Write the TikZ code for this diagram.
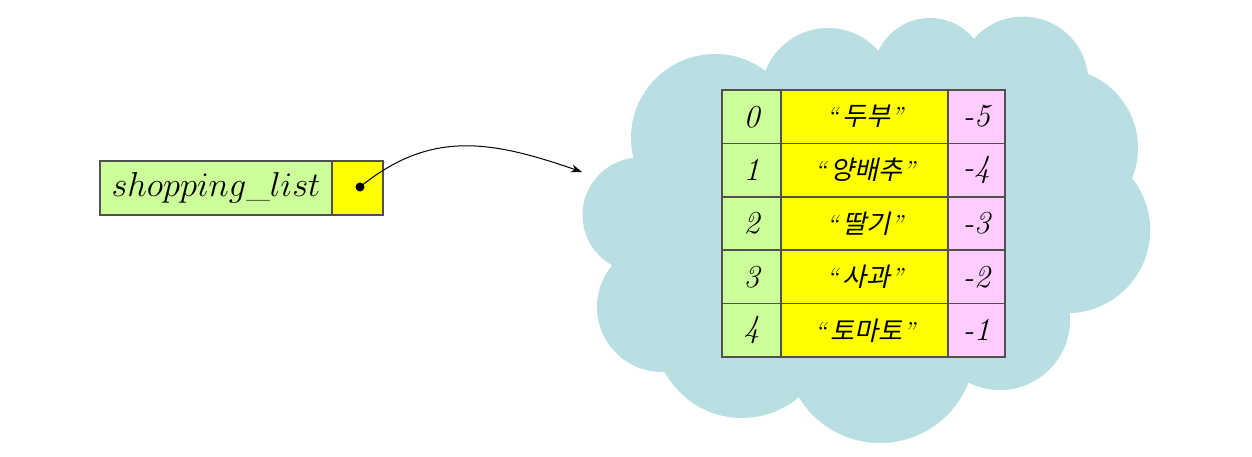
\documentclass[tikz,border=0pt]{standalone}
\usepackage{fontspec}
\usepackage{tikz}
\usetikzlibrary{positioning, arrows.meta}

\newfontfamily\krfont{Noto Sans CJK KR}[FakeSlant=0.22]

\definecolor{idxgreen}{RGB}{204,255,153}
\definecolor{valyellow}{RGB}{255,255,0}
\definecolor{negpink}{RGB}{255,204,255}
\definecolor{cloudblue}{RGB}{185,223,226}
\definecolor{cellline}{RGB}{80,80,80}

\newcommand{\kval}[1]{{\itshape``\,}{\krfont #1}{\itshape''}}

\begin{document}
\begin{tikzpicture}[
    x=0.5pt, y=-0.5pt,
    >=Stealth,
    node distance=0pt,
    cell/.style={
        draw=cellline,
        line width=0.8pt,
        rectangle,
        outer sep=0pt,
        inner sep=0pt,
        minimum height=26.7pt,
        font=\fontsize{16}{18}\selectfont
    },
    idxcell/.style={cell, fill=idxgreen, minimum width=29.5pt},
    valcell/.style={cell, fill=valyellow, minimum width=83.5pt,
        font=\fontsize{13}{15}\selectfont},
    negcell/.style={cell, fill=negpink, minimum width=28.5pt},
    namebox/.style={cell, fill=idxgreen, minimum width=116pt, minimum height=27pt,
        font=\fontsize{17}{19}\selectfont},
    ptrbox/.style={cell, fill=valyellow, minimum width=25.5pt, minimum height=27pt}
]
\useasboundingbox (0,0) rectangle (1252,456);

% cloud (bumps around a middle disc)
\fill[cloudblue]
    (870,230) circle[radius=85pt]
    (720,245) circle[radius=37pt]
    (640,215) circle[radius=28.75pt]
    (715,138) circle[radius=42pt]
    (828,95) circle[radius=33.5pt]
    (930,75) circle[radius=28.5pt]
    (1023,82) circle[radius=32.7pt]
    (1058,148) circle[radius=40pt]
    (1067,230) circle[radius=41.6pt]
    (1000,320) circle[radius=35pt]
    (880,348) circle[radius=47.5pt]
    (742,330) circle[radius=44pt]
    (662,307) circle[radius=32.5pt];

% variable
\node[namebox] (name) at (216,188) {$shopping\_list$};
\node[ptrbox, right=of name] (ptr) {};
\node[circle, fill=black, inner sep=0pt, minimum size=4.5pt] (dot) at (360,187) {};
\coordinate (target) at (582,172);

% list cells
\node[idxcell] (i0) at (751.5,116.7) {\itshape 0};
\node[valcell, right=of i0] (v0) {\kval{두부}};
\node[negcell, right=of v0] (n0) {\itshape -5};

\node[idxcell, below=of i0] (i1) {\itshape 1};
\node[valcell, right=of i1] (v1) {\kval{양배추}};
\node[negcell, right=of v1] (n1) {\itshape -4};

\node[idxcell, below=of i1] (i2) {\itshape 2};
\node[valcell, right=of i2] (v2) {\kval{딸기}};
\node[negcell, right=of v2] (n2) {\itshape -3};

\node[idxcell, below=of i2] (i3) {\itshape 3};
\node[valcell, right=of i3] (v3) {\kval{사과}};
\node[negcell, right=of v3] (n3) {\itshape -2};

\node[idxcell, below=of i3] (i4) {\itshape 4};
\node[valcell, right=of i4] (v4) {\kval{토마토}};
\node[negcell, right=of v4] (n4) {\itshape -1};

% reference
\draw[->, line width=0.5pt, >={Stealth[length=5.5pt, width=4pt]}]
    (dot.center) .. controls (430,130) and (490,140) .. (target);
\end{tikzpicture}
\end{document}
